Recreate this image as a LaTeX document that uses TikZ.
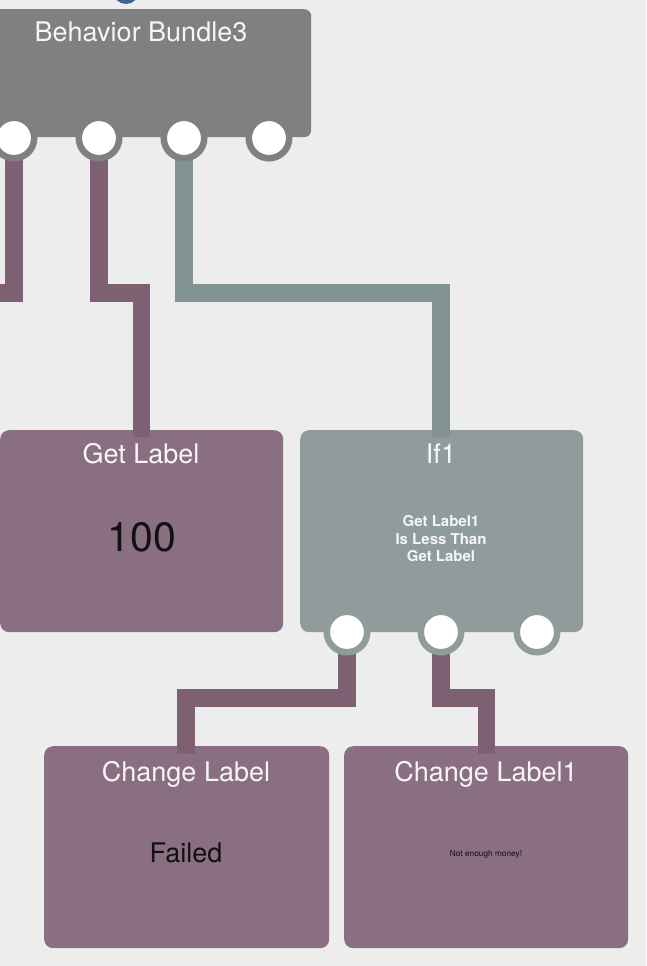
\documentclass[tikz,border=0pt]{standalone}
\usepackage{fontspec}
\setmainfont{TeX Gyre Heros}
\usetikzlibrary{calc}
\definecolor{bg}{RGB}{237,237,237}
\definecolor{bundlegray}{RGB}{128,128,128}
\definecolor{plum}{RGB}{137,111,129}
\definecolor{plumwire}{RGB}{125,97,114}
\definecolor{sage}{RGB}{143,156,155}
\definecolor{sagewire}{RGB}{130,147,145}
\definecolor{bluedot}{RGB}{66,98,148}
\definecolor{titlewhite}{RGB}{246,246,246}
\definecolor{inktext}{RGB}{17,17,17}
\begin{document}
\begin{tikzpicture}[x=1pt,y=-1pt,
 box/.style={rectangle, rounded corners=9pt, draw=none, inner sep=0pt, anchor=north west},
 boxtitle/.style={text=titlewhite, font=\fontsize{27}{31}\selectfont, anchor=base, inner sep=0pt},
 wire/.style={line width=17.5pt, line cap=butt, line join=miter},
 port/.style={circle, fill=white, line width=6.5pt, minimum size=40.5pt, inner sep=0pt}]
\fill[bg] (0,0) rectangle (646,966);
\useasboundingbox (0,0) rectangle (646,966);
\clip (0,0) rectangle (646,966);

% partially visible node above
\fill[bluedot] (126,-9) circle (13);

% boxes
\node[box, fill=bundlegray, rounded corners=7pt, minimum width=331pt, minimum height=128pt] (bundle) at (-20,9) {};
\node[box, fill=plum, minimum width=283pt, minimum height=202pt] (gl) at (0,430) {};
\node[box, fill=sage, minimum width=283pt, minimum height=202pt] (if) at (300,430) {};
\node[box, fill=plum, minimum width=285pt, minimum height=202pt] (cl) at (44,746) {};
\node[box, fill=plum, minimum width=284pt, minimum height=202pt] (cl1) at (344,746) {};

% port centres
\coordinate (b1) at (14,138);
\coordinate (b2) at (99,138);
\coordinate (b3) at (184,138);
\coordinate (b4) at (269,138);
\coordinate (i1) at (347,632);
\coordinate (i2) at (441,632);
\coordinate (i3) at (537,632);

% wire waypoints
\coordinate (mid) at (0,293);
\coordinate (midb) at (0,698);
\coordinate (offl) at (-20,293);
\coordinate (gltop) at (141.5,437);
\coordinate (iftop) at (441,437);
\coordinate (cltop) at (186,754);
\coordinate (clitop) at (486.5,754);

% wires
\draw[wire, plumwire] (b1) |- (offl);
\draw[wire, plumwire] (b2) |- (gltop |- mid) -- (gltop);
\draw[wire, sagewire] (b3) |- (iftop |- mid) -- (iftop);
\draw[wire, plumwire] (i1) |- (cltop |- midb) -- (cltop);
\draw[wire, plumwire] (i2) |- (clitop |- midb) -- (clitop);

% ports
\node[port, draw=bundlegray] (pb1) at (b1) {};
\node[port, draw=bundlegray] (pb2) at (b2) {};
\node[port, draw=bundlegray] (pb3) at (b3) {};
\node[port, draw=bundlegray] (pb4) at (b4) {};
\node[port, draw=sage] (pi1) at (i1) {};
\node[port, draw=sage] (pi2) at (i2) {};
\node[port, draw=sage] (pi3) at (i3) {};

% titles
\node[boxtitle] (tbundle) at (141,42) {Behavior Bundle3};
\node[boxtitle] (tgl) at (141,463) {Get Label};
\node[boxtitle] (tif) at (441,463) {If1};
\node[boxtitle] (tcl) at (186,781) {Change Label};
\node[boxtitle] (tcl1) at (486,781) {Change Label1};

% contents
\node[text=inktext, font=\fontsize{41}{45}\selectfont, inner sep=0pt] (v100) at (142,537) {100};
\node[text=titlewhite, font=\bfseries\fontsize{15}{17.5}\selectfont, align=center, inner sep=0pt] (cond) at (441,539) {Get Label1\\Is Less Than\\Get Label};
\node[text=inktext, font=\fontsize{27}{30}\selectfont, inner sep=0pt] (vfail) at (186,853) {Failed};
\node[text=inktext, font=\fontsize{8.3}{10}\selectfont, inner sep=0pt] (vmoney) at (486,854) {Not enough money!};
\end{tikzpicture}
\end{document}
